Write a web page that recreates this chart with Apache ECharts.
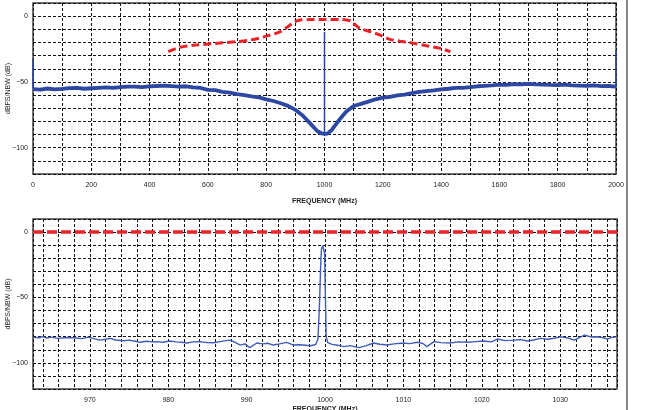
<!DOCTYPE html>
<html>
<head>
<meta charset="utf-8">
<script src="https://cdn.jsdelivr.net/npm/echarts@6/dist/echarts.min.js"></script>
<style>
  html, body { margin: 0; padding: 0; background: #fff; }
  #chart { width: 657px; height: 410px; }
</style>
</head>
<body>
<div id="chart"></div>
<script>
// top panel: wideband spectrum 0..2000 MHz
const wideFreq = [0, 25, 50, 75, 100, 125, 150, 175, 200, 225, 250, 275, 300, 325, 350, 375, 400, 425, 450, 475, 500, 525, 550, 575, 600, 625, 650, 675,
  700, 725, 750, 775, 800, 825, 850, 875, 900, 925, 950, 975, 990, 1000,
  1010, 1025, 1050, 1075, 1100, 1125, 1150, 1175, 1200, 1225, 1250, 1275, 1300, 1325, 1350, 1375, 1400, 1425, 1450, 1475, 1500, 1525, 1550, 1575,
  1600, 1625, 1650, 1675, 1700, 1725, 1750, 1775, 1800, 1825, 1850, 1875, 1900, 1925, 1950, 1975, 2000];
const wideVals = [-55.5, -55.9, -55, -55.6, -55.3, -54.7, -54.6, -55.2, -54.8, -54.5, -54.2, -54.6, -54, -53.6, -53.5, -54, -53.4, -53.1, -52.8, -53.2, -53.6, -53.3, -54.2, -54.6, -56, -56.3, -57.5, -58.1,
  -59.2, -60.1, -61, -61.8, -63.2, -64.5, -66.2, -68.2, -71.2, -75.5, -81.3, -87.3, -89.2, -89.5,
  -89.3, -86.5, -79, -72.5, -68.3, -66.7, -65, -63.2, -62, -61.3, -60.2, -59.6, -58.6, -57.6, -57, -56.5, -55.6, -55.2, -54.6, -54.5, -54, -53.3, -53, -52.7,
  -52, -52.2, -51.6, -51.9, -51.5, -51.8, -52, -52.3, -52.4, -52.1, -52.6, -52.8, -53, -52.7, -53.2, -53.1, -53.5];
const spikeFreq = [0, 1000, 2000];
const spikeBase = [-55, -89, -53.5];
const spikeTop = [-33, -12, -26];
const maskFreq = [464, 504, 550, 601, 650, 700, 750, 801, 847, 870, 899, 916, 950, 1000, 1050, 1088, 1105, 1122, 1160, 1191, 1225, 1260, 1295, 1350, 1398, 1432];
const maskVals = [-27, -23.7, -22.2, -21.2, -20.3, -19.4, -18, -15.2, -11.9, -8.6, -4.3, -3, -2.6, -2.5, -2.5, -3.5, -6.5, -9.3, -12, -14.4, -17.7, -19, -20.2, -22.5, -24.5, -27];

// bottom panel: zoom around the 1000 MHz carrier
const zoomFreq = [962.8, 963.5, 964, 964.5, 965, 966, 967, 968, 969, 969.8, 970.5, 971.3, 972, 972.6, 973.3, 974.3, 975, 975.8, 976.4, 977.2, 978, 978.5, 979.3,
  980.2, 981, 981.7, 982.4, 983.2, 984.1, 985, 985.8, 986.6, 987.4, 987.9, 988.6, 989.2, 989.8, 990.4, 991.3, 992, 992.7, 993.4, 994.2, 995.1, 995.6, 996,
  996.8, 997.5, 998.2, 998.8, 999.1, 999.3, 999.45, 999.55, 999.7, 999.85, 999.95, 1000.05, 1000.15, 1000.35, 1000.9, 1001.6, 1002.4, 1003.2, 1004.3,
  1005.2, 1006.2, 1007, 1007.9, 1008.8, 1010, 1010.8, 1011.8, 1012.5, 1013, 1013.9, 1014.8, 1016, 1017, 1018.2, 1019.2, 1020.3, 1021.2, 1022, 1023,
  1024.1, 1025, 1025.8, 1026.6, 1027.5, 1028.4, 1029.2, 1030.1, 1031, 1031.8, 1032.5, 1033.1, 1034, 1034.8, 1035.5, 1036, 1036.6, 1037.2];
const zoomVals = [-80.5, -80.8, -80, -81, -80.3, -81.3, -80.6, -80.8, -81.5, -80.3, -81.5, -82.6, -82, -81.3, -82.5, -83.1, -82.6, -83.5, -84.3, -83.5, -84, -83.8, -84.2,
  -83.3, -84, -84.3, -84.8, -84, -83.8, -84.5, -84.6, -83.8, -83, -82.6, -84.5, -86.4, -85.5, -88.4, -84.8, -85.5, -85, -86.4, -85.5, -84.3, -85.5, -86.4,
  -86.2, -86.5, -86.9, -86, -82, -55, -25, -13, -10.5, -11.5, -16, -50, -80, -84.5, -85.9, -86.5, -87.6, -86.8, -88.4,
  -87, -84.8, -85.8, -86.4, -85.5, -84.8, -85.3, -84.3, -85.2, -87.6, -83.8, -84.5, -84.8, -84, -84.3, -83.8, -83.3, -84, -81.8, -83,
  -82.6, -82.2, -83.3, -82.5, -81.3, -82, -81.2, -80.1, -81, -82.6, -80.5, -78.8, -80.2, -80.1, -80.8, -81.8, -80.5, -80.1];
const zoomMaskFreq = [962.75, 1037.25];
const zoomMaskVals = [0, 0];

const yTicks = [0, -50, -100];
const wideTicks = [0, 200, 400, 600, 800, 1000, 1200, 1400, 1600, 1800, 2000];
const zoomTicks = [970, 980, 990, 1000, 1010, 1020, 1030];

const font = "'Liberation Sans', Arial, sans-serif";
const gridLine = { show: true, lineStyle: { color: '#111', type: [3, 2], width: 1 } };
const labelStyle = { fontSize: 7, color: '#222', fontFamily: font };

function pairs(xs, ys) { return xs.map((x, i) => [x, ys[i]]); }

let spikeData = [];
spikeFreq.forEach(function (f, i) {
  spikeData.push([f, spikeBase[i]], [f, spikeTop[i]], [f, '-']);
});

function yAxis(idx) {
  return {
    type: 'value', gridIndex: idx, min: -120, max: 10, interval: 10,
    name: 'dBFS/NBW (dB)', nameLocation: 'middle', nameGap: 21, nameMoveOverlap: false,
    nameTextStyle: { fontSize: 7, color: '#222', fontFamily: font },
    axisLine: { show: false }, axisTick: { show: false },
    axisLabel: Object.assign({ margin: 5, formatter: v => yTicks.indexOf(v) >= 0 ? (v < 0 ? '\u2212' + (-v) : String(v)) : '' }, labelStyle),
    splitLine: gridLine
  };
}

let chart = echarts.init(document.getElementById('chart'));
chart.setOption({
  animation: false,
  backgroundColor: '#fff',
  graphic: [{ type: 'line', shape: { x1: 627, y1: 0, x2: 627, y2: 410 }, style: { stroke: '#111', lineWidth: 1 } }],
  grid: [
    { left: 33, top: 3, right: 41, height: 171, show: true, borderColor: '#444', borderWidth: 1.5, outerBoundsMode: 'none', containLabel: false },
    { left: 33, top: 219, right: 40, height: 170, show: true, borderColor: '#444', borderWidth: 1.5, outerBoundsMode: 'none', containLabel: false }
  ],
  xAxis: [{
    type: 'value', gridIndex: 0, min: 0, max: 2000, interval: 100,
    name: 'FREQUENCY (MHz)', nameLocation: 'middle', nameGap: 24, nameMoveOverlap: false,
    nameTextStyle: { fontSize: 7, fontWeight: 'bold', color: '#222', fontFamily: font, verticalAlign: 'top' },
    axisLine: { show: false }, axisTick: { show: false },
    axisLabel: Object.assign({ margin: 8, formatter: v => wideTicks.indexOf(v) >= 0 ? String(v) : '' }, labelStyle),
    splitLine: gridLine
  }, {
    type: 'value', gridIndex: 1, min: 962.75, max: 1037.25, splitNumber: 37, minInterval: 2, maxInterval: 2,
    name: 'FREQUENCY (MHz)', nameLocation: 'middle', nameGap: 17, nameMoveOverlap: false,
    nameTextStyle: { fontSize: 7, fontWeight: 'bold', color: '#222', fontFamily: font, verticalAlign: 'top' },
    axisLine: { show: false }, axisTick: { show: false },
    axisLabel: Object.assign({ margin: 8, formatter: v => zoomTicks.indexOf(Math.round(v * 100) / 100) >= 0 ? String(Math.round(v)) : '' }, labelStyle),
    splitLine: gridLine
  }],
  yAxis: [yAxis(0), yAxis(1)],
  series: [{
    type: 'line', xAxisIndex: 0, yAxisIndex: 0, showSymbol: false,
    data: pairs(wideFreq, wideVals),
    lineStyle: { color: '#2c48a2', width: 3.8 }
  }, {
    type: 'line', xAxisIndex: 0, yAxisIndex: 0, showSymbol: false, connectNulls: false,
    data: spikeData,
    lineStyle: { color: '#2c48a2', width: 1.5 }
  }, {
    type: 'line', xAxisIndex: 0, yAxisIndex: 0, showSymbol: false, smooth: 0.3,
    data: pairs(maskFreq, maskVals),
    lineStyle: { color: '#ec2229', width: 3, type: [8, 4] }
  }, {
    type: 'line', xAxisIndex: 1, yAxisIndex: 1, showSymbol: false,
    data: pairs(zoomFreq, zoomVals),
    lineStyle: { color: '#3f5cb8', width: 1.4 }
  }, {
    type: 'line', xAxisIndex: 1, yAxisIndex: 1, showSymbol: false,
    data: pairs(zoomMaskFreq, zoomMaskVals),
    lineStyle: { color: '#ec2229', width: 3.5, type: [10, 4] }
  }]
});
</script>
</body>
</html>
